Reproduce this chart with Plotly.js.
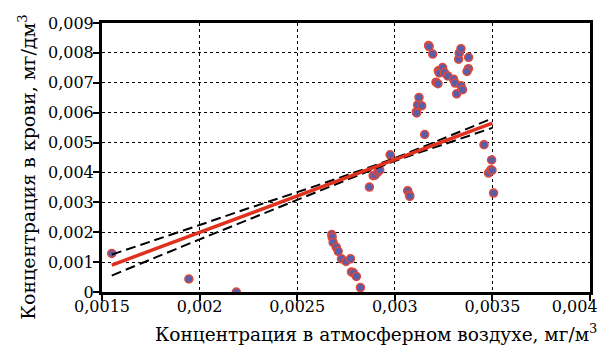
<!DOCTYPE html>
<html>
<head>
<meta charset="utf-8">
<script src="https://cdn.plot.ly/plotly-3.0.1.min.js"></script>
<style>
html,body{margin:0;padding:0;background:#fff;}
#chart{width:600px;height:349px;}
#chart text{font-family:'DejaVu Serif',serif !important;}
</style>
</head>
<body>
<div id="chart"></div>
<script>
// Observed data: concentration in air (x) vs. in blood (y)
const airConc = [
  0.00155, 0.001945, 0.002188,
  0.002677, 0.002679, 0.002684, 0.0027, 0.00271, 0.002727, 0.00275, 0.002773, 0.002778, 0.002788, 0.002803, 0.002824,
  0.00287, 0.002889, 0.002899, 0.002913, 0.002923, 0.002976,
  0.003066, 0.003075, 0.003077,
  0.00311, 0.003112, 0.003117, 0.003138, 0.003124, 0.003153,
  0.003173, 0.003176, 0.003194,
  0.003211, 0.003221, 0.003223, 0.003228, 0.003245, 0.003254, 0.003271,
  0.003301, 0.003309, 0.003317, 0.003339, 0.003347,
  0.003327, 0.00333, 0.003339, 0.003378, 0.003377, 0.00337,
  0.003457, 0.003496, 0.00348, 0.003492, 0.003498, 0.003506
];
const bloodConc = [
  0.00129, 0.000435, 0.0,
  0.00192, 0.00183, 0.00166, 0.0015, 0.00136, 0.00111, 0.00102, 0.00111, 0.00067, 0.00064, 0.00052, 0.00015,
  0.00351, 0.00389, 0.00391, 0.00401, 0.00408, 0.00459,
  0.00339, 0.00325, 0.0032,
  0.00603, 0.00599, 0.00626, 0.00623, 0.00651, 0.00527,
  0.00825, 0.00821, 0.00796,
  0.00702, 0.00697, 0.0074, 0.00733, 0.00751, 0.00734, 0.00723,
  0.00712, 0.00699, 0.00663, 0.0069, 0.00677,
  0.00779, 0.00799, 0.00814, 0.00785, 0.00747, 0.00738,
  0.00493, 0.00442, 0.00398, 0.00409, 0.00407, 0.00331
];
// Regression line
const fitX = [0.00155, 0.0035];
const fitY = [0.0009, 0.00565];
// Confidence band
const bandX = [0.00155, 0.00175, 0.002, 0.00225, 0.0025, 0.00275, 0.003, 0.00325, 0.0035];
const bandUpper = [0.00125, 0.00169, 0.00224, 0.0028, 0.00334, 0.0039, 0.00448, 0.00514, 0.00581];
const bandLower = [0.00055, 0.00109, 0.00176, 0.00242, 0.00308, 0.00374, 0.00438, 0.00494, 0.00549];
// Ticks
const xTickVals = [0.0015, 0.002, 0.0025, 0.003, 0.0035, 0.004];
const xTickText = ['0,0015', '0,002', '0,0025', '0,003', '0,0035', '0,004\u2007\u2007\u2007'];
const yTickVals = [0, 0.001, 0.002, 0.003, 0.004, 0.005, 0.006, 0.007, 0.008, 0.009];
const yTickText = ['0', '0,001', '0,002', '0,003', '0,004', '0,005', '0,006', '0,007', '0,008', '0,009'];
const xTitle = 'Концентрация в атмосферном воздухе, мг/м<sup>3</sup>';
const yTitle = 'Концентрация в крови, мг/дм<sup>3</sup>';

const FONT = 'DejaVu Serif, serif';

const traces = [
  {x: airConc, y: bloodConc, type: 'scatter', mode: 'markers',
   marker: {size: 8, color: '#5a5ea8', line: {color: '#e0483a', width: 1.5}}, hoverinfo: 'skip'},
  {x: bandX, y: bandUpper, type: 'scatter', mode: 'lines', line: {color: '#000', width: 2, dash: '10px,5px', shape: 'spline'}},
  {x: bandX, y: bandLower, type: 'scatter', mode: 'lines', line: {color: '#000', width: 2, dash: '10px,5px', shape: 'spline'}},
  {x: fitX, y: fitY, type: 'scatter', mode: 'lines', line: {color: '#e0301e', width: 3.5}}
];

function axisStyle() {
  return {
    showline: true, linecolor: '#000', linewidth: 3, mirror: true,
    showgrid: true, gridcolor: '#000', gridwidth: 1, griddash: 'dot',
    zeroline: false, ticks: 'outside', ticklen: 6, tickwidth: 2, tickcolor: '#000',
    tickfont: {family: FONT, size: 16, color: '#000'}, tickmode: 'array',
    ticklabeloverflow: 'allow'
  };
}

const layout = {
  width: 600, height: 349,
  margin: {l: 102, r: 10, t: 23, b: 57},
  paper_bgcolor: '#fff', plot_bgcolor: '#fff',
  showlegend: false,
  font: {family: FONT, size: 16, color: '#000'},
  xaxis: Object.assign(axisStyle(), {range: [0.0015, 0.004], tickvals: xTickVals, ticktext: xTickText, ticklabelstandoff: -8}),
  yaxis: Object.assign(axisStyle(), {range: [0, 0.009], tickvals: yTickVals, ticktext: yTickText, ticklabelstandoff: -4}),
  annotations: [
    {text: xTitle, xref: 'paper', yref: 'paper', x: 1.018, y: -0.152, xanchor: 'right', yanchor: 'middle',
     showarrow: false, font: {family: FONT, size: 18.5, color: '#000'}},
    {text: yTitle, xref: 'paper', yref: 'paper', x: -0.154, y: 0.465, xanchor: 'center', yanchor: 'middle',
     textangle: -90, showarrow: false, font: {family: FONT, size: 19, color: '#000'}}
  ]
};

Plotly.newPlot('chart', traces, layout, {staticPlot: true, displayModeBar: false});
</script>
</body>
</html>
